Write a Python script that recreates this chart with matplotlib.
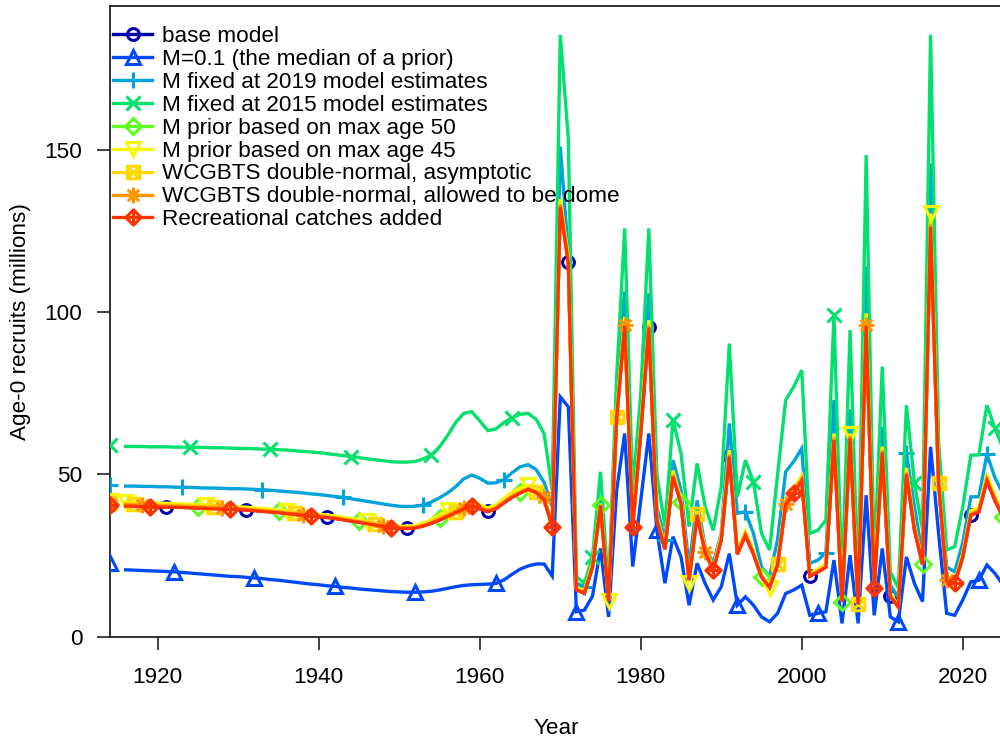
import numpy as np
import matplotlib
matplotlib.use("Agg")
import matplotlib.pyplot as plt
from matplotlib.path import Path
from matplotlib.lines import Line2D

plt.rcParams['font.family'] = ['Liberation Sans', 'DejaVu Sans']

# ---------------- data ----------------
years = list(range(1916, 2026))
virgin_year = 1914

labels = ["base model",
          "M=0.1 (the median of a prior)",
          "M fixed at 2019 model estimates",
          "M fixed at 2015 model estimates",
          "M prior based on max age 50",
          "M prior based on max age 45",
          "WCGBTS double-normal, asymptotic",
          "WCGBTS double-normal, allowed to be dome",
          "Recreational catches added"]

virgin = [40.6, 22.6, 46.7, 59.1, 40.8, 41.8, 41.3, 41.0, 40.5]

base = [40.3, 40.3, 40.2, 40.2, 40.1, 40.0, 40.0, 39.9, 39.8, 39.7,
        39.6, 39.5, 39.4, 39.3, 39.2, 39.1, 38.9, 38.7, 38.5, 38.3,
        38.0, 37.8, 37.5, 37.3, 37.0, 36.8, 36.5, 36.1, 35.7, 35.3,
        34.9, 34.5, 34.1, 33.7, 33.5, 33.4, 33.6, 34.2, 35.0, 36.0,
        37.1, 38.3, 39.5, 40.2, 39.5, 38.6, 39.5, 41.3, 43.0, 44.3,
        45.5, 44.5, 42.3, 33.8, 133.0, 115.4, 14.5, 13.5, 21.5, 40.5,
        11.0, 67.5, 96.0, 34.0, 63.0, 95.4, 36.0, 27.0, 49.5, 41.2,
        17.5, 37.5, 26.0, 20.5, 30.0, 55.7, 25.5, 31.3, 25.5, 18.5,
        15.2, 22.3, 40.8, 44.3, 48.2, 18.7, 20.0, 21.5, 61.0, 10.8,
        61.5, 10.0, 96.0, 14.9, 57.0, 12.5, 9.2, 50.3, 33.0, 22.3,
        126.5, 47.2, 17.4, 16.4, 24.6, 37.5, 38.5, 48.2, 42.0, 37.0]

m_01 = [20.6, 20.5, 20.4, 20.3, 20.2, 20.1, 20.0, 19.8, 19.6, 19.4,
        19.2, 19.0, 18.8, 18.6, 18.5, 18.3, 18.1, 17.9, 17.6, 17.4,
        17.1, 16.8, 16.5, 16.2, 16.0, 15.7, 15.5, 15.2, 15.0, 14.7,
        14.5, 14.3, 14.1, 13.9, 13.8, 13.7, 13.7, 13.8, 14.0, 14.4,
        14.9, 15.4, 15.8, 16.0, 16.1, 16.2, 16.4, 17.5, 19.2, 20.8,
        21.8, 22.4, 22.4, 18.7, 73.9, 70.8, 7.7, 8.2, 12.5, 27.2,
        6.1, 45.0, 62.6, 21.6, 42.0, 62.6, 32.8, 16.5, 30.8, 24.6,
        9.7, 22.6, 16.4, 11.3, 15.4, 25.6, 9.7, 12.3, 9.7, 6.1,
        4.6, 7.2, 13.3, 14.4, 15.9, 6.6, 7.2, 7.7, 23.6, 4.1,
        25.1, 4.1, 43.6, 6.6, 27.2, 6.1, 4.6, 24.6, 16.4, 10.8,
        58.5, 31.8, 7.2, 6.6, 11.3, 16.9, 17.4, 22.1, 19.5, 16.0]

m_2019 = [46.4, 46.4, 46.3, 46.3, 46.2, 46.2, 46.1, 46.0, 46.0, 45.9,
          45.8, 45.8, 45.7, 45.6, 45.6, 45.5, 45.4, 45.3, 45.1, 44.9,
          44.7, 44.5, 44.3, 44.0, 43.8, 43.5, 43.2, 42.9, 42.5, 42.1,
          41.7, 41.3, 40.9, 40.5, 40.2, 40.1, 40.2, 40.6, 41.5, 42.8,
          44.3, 46.2, 48.6, 49.8, 48.8, 47.3, 47.4, 48.4, 50.5, 52.3,
          53.0, 51.5, 47.5, 40.0, 151.0, 118.0, 16.5, 15.4, 24.0, 43.1,
          12.0, 75.0, 106.3, 38.0, 70.0, 105.8, 40.0, 29.8, 54.4, 45.2,
          21.5, 42.0, 27.7, 22.6, 31.8, 65.7, 38.0, 38.5, 31.8, 21.5,
          18.5, 30.0, 50.8, 54.0, 58.0, 22.6, 23.6, 25.9, 72.9, 13.5,
          70.0, 13.0, 114.0, 19.0, 64.7, 16.0, 12.0, 56.7, 40.0, 25.0,
          145.8, 50.0, 21.5, 20.0, 29.0, 43.1, 43.1, 56.2, 49.0, 44.0]

m_2015 = [58.6, 58.6, 58.6, 58.5, 58.5, 58.5, 58.4, 58.4, 58.4, 58.3,
          58.3, 58.2, 58.2, 58.1, 58.0, 58.0, 57.9, 57.8, 57.8, 57.6,
          57.5, 57.3, 57.1, 56.9, 56.7, 56.4, 56.1, 55.8, 55.5, 55.2,
          54.8, 54.5, 54.2, 53.9, 53.8, 53.8, 54.0, 54.8, 56.0, 58.5,
          62.0, 66.0, 68.8, 69.3, 66.5, 63.5, 64.0, 66.0, 67.4, 68.5,
          68.8, 67.0, 62.5, 45.0, 185.4, 153.5, 18.5, 16.4, 24.6, 50.8,
          14.0, 80.0, 125.8, 45.0, 75.0, 125.8, 50.0, 34.0, 66.7, 56.5,
          33.9, 53.4, 40.0, 32.8, 46.2, 90.3, 43.1, 54.4, 47.7, 31.8,
          26.7, 50.0, 72.9, 77.0, 82.1, 31.8, 32.8, 35.9, 99.1, 16.0,
          94.5, 15.0, 148.4, 22.0, 83.2, 20.0, 15.0, 71.3, 47.2, 33.0,
          185.4, 60.0, 26.7, 27.7, 40.0, 55.9, 56.0, 71.3, 64.2, 58.0]

prior_50 = [40.5, 40.5, 40.4, 40.4, 40.3, 40.3, 40.3, 40.2, 40.1, 40.1,
            40.0, 39.9, 39.8, 39.7, 39.5, 39.4, 39.2, 39.0, 38.8, 38.6,
            38.3, 38.1, 37.8, 37.6, 37.3, 37.1, 36.8, 36.4, 36.0, 35.6,
            35.2, 34.8, 34.4, 34.0, 33.8, 33.7, 33.9, 34.6, 35.5, 36.6,
            37.7, 38.8, 40.0, 40.6, 39.9, 39.0, 39.9, 41.7, 43.4, 44.5,
            45.9, 45.0, 42.8, 34.2, 134.0, 116.0, 14.8, 13.8, 22.0, 40.5,
            11.3, 68.3, 97.0, 34.5, 63.8, 96.3, 36.6, 27.5, 50.3, 41.6,
            17.9, 38.1, 26.5, 20.9, 30.6, 56.5, 26.0, 31.9, 26.0, 18.5,
            15.6, 22.8, 41.5, 45.0, 49.0, 19.1, 20.4, 22.0, 62.0, 10.8,
            62.5, 10.3, 97.5, 15.3, 58.0, 12.9, 9.5, 51.2, 33.7, 22.3,
            128.5, 48.0, 17.8, 16.8, 25.1, 38.2, 39.2, 49.1, 42.8, 37.0]

prior_45 = [41.6, 41.5, 41.4, 41.3, 41.2, 41.1, 41.0, 40.9, 40.8, 40.7,
            40.6, 40.5, 40.3, 40.2, 40.0, 39.9, 39.7, 39.5, 39.3, 39.0,
            38.8, 38.5, 38.3, 38.0, 37.7, 37.5, 37.2, 36.8, 36.4, 36.0,
            35.5, 35.1, 34.7, 34.3, 34.1, 34.0, 34.3, 35.0, 36.1, 37.5,
            39.0, 39.8, 40.8, 41.3, 40.6, 39.7, 40.6, 42.6, 44.5, 45.8,
            46.6, 45.5, 43.3, 34.5, 134.8, 117.0, 15.2, 14.2, 22.5, 41.0,
            11.0, 69.0, 98.5, 35.0, 64.5, 97.5, 37.2, 28.0, 51.2, 42.2,
            16.4, 38.7, 27.0, 21.3, 31.2, 57.5, 26.5, 32.5, 26.5, 19.0,
            14.9, 23.3, 42.0, 45.8, 49.6, 19.5, 20.8, 22.5, 62.6, 11.2,
            62.6, 10.6, 99.6, 15.7, 58.6, 13.2, 9.8, 52.0, 34.3, 22.8,
            130.4, 48.8, 18.2, 17.2, 25.6, 38.8, 39.9, 50.0, 43.5, 37.8]

wcgbts_asym = [41.0, 40.9, 40.8, 40.7, 40.6, 40.5, 40.5, 40.4, 40.3, 40.2,
               40.1, 40.0, 39.8, 39.7, 39.6, 39.4, 39.2, 39.0, 38.8, 38.6,
               38.3, 38.1, 37.8, 37.5, 37.3, 37.0, 36.7, 36.3, 35.9, 35.5,
               35.1, 34.6, 34.2, 33.9, 33.7, 33.6, 33.9, 34.5, 35.5, 36.8,
               37.8, 38.5, 39.9, 40.6, 39.9, 39.0, 39.9, 41.8, 43.6, 44.8,
               45.8, 44.7, 42.7, 34.0, 133.8, 116.2, 14.8, 13.8, 22.0, 40.8,
               11.2, 67.8, 97.2, 34.4, 63.8, 96.5, 36.5, 27.5, 50.2, 41.6,
               17.8, 37.9, 26.4, 20.8, 30.5, 56.4, 25.9, 31.8, 25.9, 18.7,
               15.4, 22.3, 41.3, 44.9, 48.9, 19.0, 20.3, 21.9, 61.9, 11.0,
               62.3, 10.0, 97.8, 15.2, 57.9, 12.8, 9.4, 51.0, 33.6, 22.6,
               128.0, 47.2, 17.7, 16.7, 25.0, 38.0, 39.0, 48.9, 42.6, 37.5]

wcgbts_dome = [40.7, 40.6, 40.5, 40.4, 40.3, 40.3, 40.2, 40.1, 40.0, 40.0,
               39.9, 39.8, 39.6, 39.5, 39.4, 39.2, 39.0, 38.8, 38.6, 38.4,
               38.1, 37.9, 37.6, 37.4, 37.1, 36.9, 36.6, 36.2, 35.8, 35.4,
               35.0, 34.5, 34.1, 33.8, 33.6, 33.5, 33.7, 34.3, 35.2, 36.3,
               37.4, 38.6, 39.5, 40.4, 39.7, 38.8, 39.7, 41.5, 43.2, 44.4,
               45.6, 44.6, 42.9, 33.9, 133.2, 115.8, 14.6, 13.6, 21.7, 40.6,
               11.1, 67.6, 96.0, 34.2, 63.3, 95.8, 36.2, 27.2, 49.8, 41.4,
               17.6, 37.7, 26.2, 20.6, 30.2, 56.0, 25.7, 31.5, 25.7, 18.6,
               15.3, 22.4, 40.8, 44.6, 48.5, 18.8, 20.1, 21.7, 61.3, 10.9,
               61.8, 10.1, 96.0, 15.0, 57.4, 12.6, 9.3, 50.6, 33.3, 22.4,
               127.0, 47.4, 17.4, 16.5, 24.8, 37.7, 38.8, 48.5, 42.3, 37.2]

rec_added = [40.2, 40.2, 40.1, 40.1, 40.0, 39.9, 39.9, 39.8, 39.7, 39.6,
             39.5, 39.4, 39.3, 39.2, 39.1, 39.0, 38.8, 38.6, 38.4, 38.2,
             37.9, 37.7, 37.4, 37.2, 36.9, 36.7, 36.4, 36.0, 35.6, 35.2,
             34.8, 34.4, 34.0, 33.6, 33.4, 33.3, 33.5, 34.1, 34.9, 35.9,
             37.0, 38.2, 39.4, 40.3, 39.4, 38.5, 39.4, 41.2, 42.9, 44.2,
             45.4, 44.4, 42.2, 33.9, 132.5, 115.0, 14.4, 13.4, 21.4, 40.4,
             10.9, 67.3, 95.8, 33.9, 62.8, 95.2, 35.9, 26.9, 49.3, 41.0,
             17.4, 37.3, 25.9, 20.5, 29.8, 55.5, 25.4, 31.2, 25.4, 18.4,
             15.1, 22.2, 40.6, 44.3, 48.1, 18.6, 19.9, 21.4, 60.6, 10.7,
             61.2, 9.9, 95.8, 14.9, 56.8, 12.4, 9.1, 50.1, 32.8, 22.2,
             126.3, 47.0, 17.3, 16.4, 24.5, 37.4, 38.4, 48.0, 41.9, 36.9]

series = [base, m_01, m_2019, m_2015, prior_50, prior_45,
          wcgbts_asym, wcgbts_dome, rec_added]
first_marker_year = [1921, 1922, 1923, 1924, 1925, 1916, 1917, 1918, 1919]

# ---------------- colours (r4ss rich.colors.short) ----------------
def rich_colors_short(n):
    x = np.linspace(0, 1, n)
    r = 1 / (1 + np.exp(20 - 35 * x))
    g = np.clip(-0.8 + 6 * x - 5 * x ** 2, 0, 1)
    b = np.exp(-((x - 0.25) ** 2) / (2 * 0.15 ** 2))
    return [tuple(c) for c in np.stack([r, g, b], axis=1)]

colors = rich_colors_short(len(series) + 1)[1:]

# ---------------- markers ----------------
M, L, C = Path.MOVETO, Path.LINETO, Path.CLOSEPOLY
square_x = Path([(-1, -1), (1, -1), (1, 1), (-1, 1), (-1, -1),
                 (-1, -1), (1, 1), (-1, 1), (1, -1)],
                [M, L, L, L, C, M, L, M, L])
d = 0.72
asterisk = Path([(-1, 0), (1, 0), (0, -1), (0, 1),
                 (-d, -d), (d, d), (-d, d), (d, -d)],
                [M, L, M, L, M, L, M, L])
diamond_plus = Path([(0, -1), (1, 0), (0, 1), (-1, 0), (0, -1),
                     (-1, 0), (1, 0), (0, -1), (0, 1)],
                    [M, L, L, L, C, M, L, M, L])

markers = ['o', '^', '+', 'x', 'D', 'v', square_x, asterisk, diamond_plus]
msizes = [8.5, 10.5, 11.5, 9.5, 8.5, 10.5, 9, 11.5, 11]

# ---------------- figure ----------------
W, H = 1000, 744
fig = plt.figure(figsize=(W / 100, H / 100), dpi=100)
left_px, right_px, top_px, bot_px = 109.5, 1003.0, 5.7, 636.7
ax = fig.add_axes([left_px / W, 1 - bot_px / H,
                   (right_px - left_px) / W, (bot_px - top_px) / H])
ax.set_xlim(1914, 2025)
ax.set_ylim(0, 194.4)

lw = 2.4
for i, (vals, col) in enumerate(zip(series, colors)):
    z = 2 + i
    ax.plot(years, vals, color=col, lw=lw, zorder=z, solid_joinstyle='miter')
    mk_years = [y for y in years if (y - first_marker_year[i]) % 10 == 0]
    mk_vals = [vals[years.index(y)] for y in mk_years]
    mk_years = [virgin_year] + mk_years
    mk_vals = [virgin[i]] + mk_vals
    ax.plot(mk_years, mk_vals, ls='none', marker=markers[i], ms=msizes[i],
            mfc='none', mec=col, mew=2.2, zorder=z + 0.5)

fs = 16.2
ax.set_xticks([1920, 1940, 1960, 1980, 2000, 2020])
ax.set_yticks([0, 50, 100, 150])
ax.tick_params(axis='both', direction='out', length=9.5, width=1.2,
               labelsize=fs, color='#222222')
ax.tick_params(axis='x', pad=12)
ax.tick_params(axis='y', pad=10)
for s in ['left', 'bottom', 'top']:
    ax.spines[s].set_linewidth(1.3)
    ax.spines[s].set_color('#222222')
ax.spines['right'].set_visible(False)

ax.set_xlabel('Year', fontsize=fs)
ax.xaxis.set_label_coords(0.5, -(728 - bot_px) / (bot_px - top_px))
ax.xaxis.label.set_va('center')
ax.set_ylabel('Age-0 recruits (millions)', fontsize=fs)
ax.yaxis.set_label_coords(-(left_px - 20) / (right_px - left_px), 0.5)
ax.yaxis.label.set_va('center')

handles = [Line2D([], [], color=c, lw=lw, marker=m, ms=s, mfc='none',
                  mec=c, mew=2.2)
           for c, m, s in zip(colors, markers, msizes)]
leg = ax.legend(handles, labels, loc='upper left',
                bbox_to_anchor=(113 / W, 1 - 26 / H),
                bbox_transform=fig.transFigure,
                frameon=False, fontsize=fs, borderpad=0, borderaxespad=0,
                handlelength=1.75, handletextpad=0.45, labelspacing=0.085)
leg.set_zorder(20)

fig.savefig('out.png', dpi=100)
